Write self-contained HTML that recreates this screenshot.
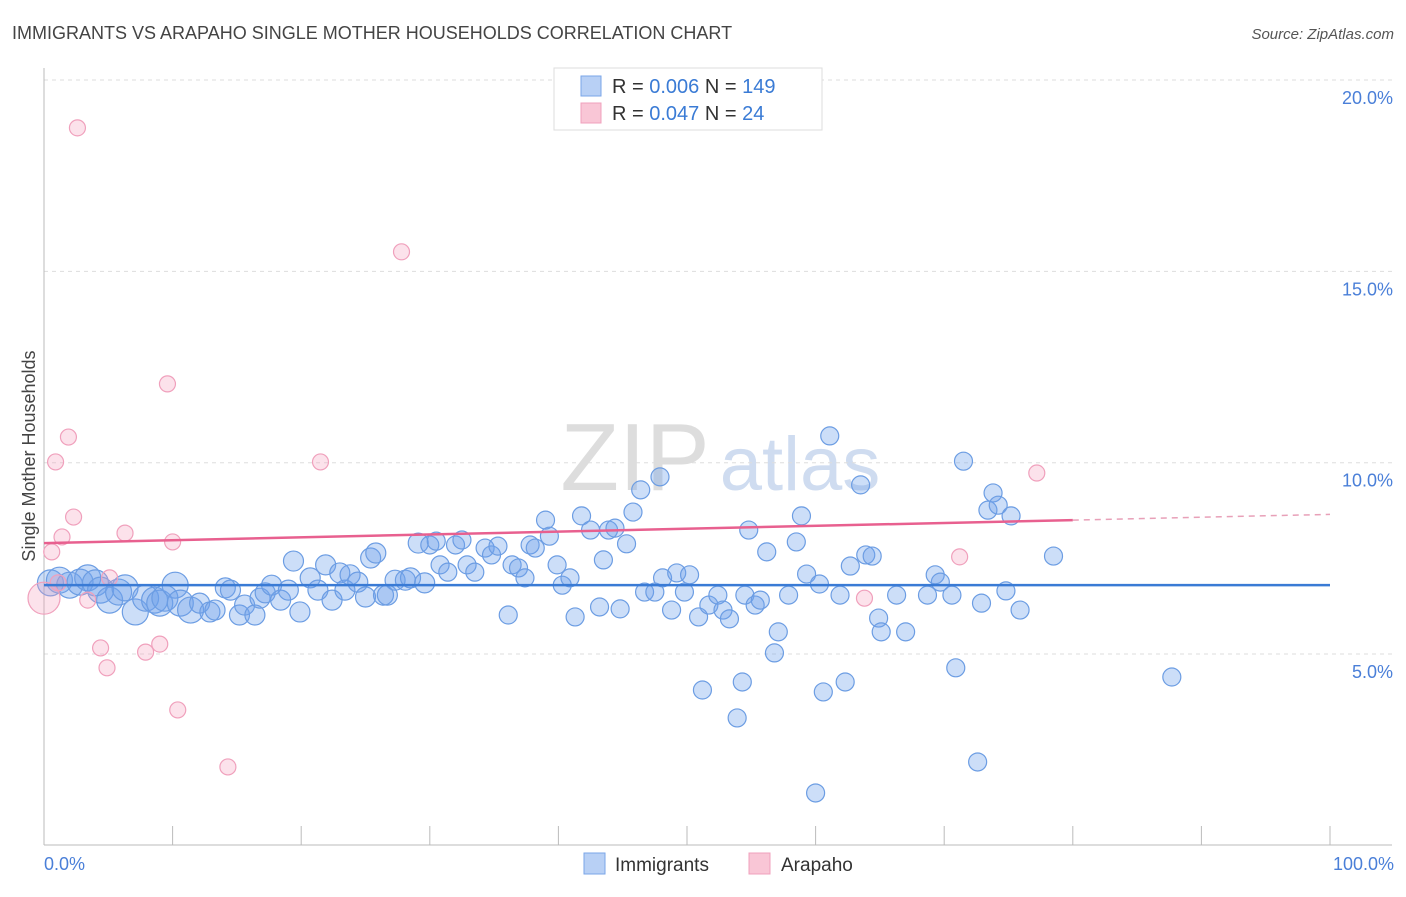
<!DOCTYPE html>
<html><head><meta charset="utf-8"><style>
body{margin:0;background:#fff;font-family:"Liberation Sans",sans-serif;}
svg text{font-family:"Liberation Sans",sans-serif;}
</style></head><body>
<svg id="chart" width="1406" height="892" viewBox="0 0 1406 892">
<text x="12" y="39" font-size="18" fill="#444">IMMIGRANTS VS ARAPAHO SINGLE MOTHER HOUSEHOLDS CORRELATION CHART</text>
<text x="1394" y="39" font-size="15" fill="#555" text-anchor="end" font-style="italic">Source: ZipAtlas.com</text>
<g><text x="635" y="490" font-size="96" fill="#ddd" text-anchor="middle" font-family="Liberation Serif,serif">ZIP</text><text x="800" y="490" font-size="76" fill="#cfdcf0" text-anchor="middle">atlas</text></g>
<g id="grid"></g>
<g id="axes"></g>
<g id="pts"></g>
<g id="lines"></g>
<text x="35" y="456" font-size="18" fill="#444" text-anchor="middle" transform="rotate(-90 35 456)">Single Mother Households</text>
<text x="44" y="870" font-size="18" fill="#4a7fd8">0.0%</text>
<text x="1394" y="870" font-size="18" fill="#4a7fd8" text-anchor="end">100.0%</text>
<g>
<rect x="554" y="68" width="268" height="62" fill="#fff" stroke="#ddd"/>
<rect x="581" y="76" width="20" height="20" fill="#b8d0f5" stroke="#7aa6e8"/>
<rect x="581" y="103" width="20" height="20" fill="#f9c6d6" stroke="#f0a0bc"/>
<text x="612" y="93" font-size="20" fill="#333">R = <tspan fill="#3a7bd5">0.006</tspan>   N = <tspan fill="#3a7bd5">149</tspan></text>
<text x="612" y="120" font-size="20" fill="#333">R = <tspan fill="#3a7bd5">0.047</tspan>   N = <tspan fill="#3a7bd5">  24</tspan></text>
</g>
<g>
<rect x="584" y="853" width="21" height="21" fill="#b8d0f5" stroke="#7aa6e8"/>
<text x="615" y="871" font-size="19" fill="#333">Immigrants</text>
<rect x="749" y="853" width="21" height="21" fill="#f9c6d6" stroke="#f0a0bc"/>
<text x="781" y="871" font-size="19" fill="#333">Arapaho</text>
</g>
</svg>
<script>
const blueX=[0.5,1.2,2.0,2.8,3.4,4.0,4.4,5.1,5.8,6.3,7.1,7.9,8.6,9.0,9.4,10.2,10.6,11.4,12.1,12.9,13.3,14.1,14.5,15.2,15.6,16.4,16.8,17.2,17.7,18.4,19.0,19.4,19.9,20.7,21.3,21.9,22.4,23.0,23.4,23.8,24.4,25.0,25.4,25.8,26.4,26.7,27.3,28.1,28.5,29.1,29.6,30.0,30.5,30.8,31.4,32.0,32.5,32.9,33.5,34.3,34.8,35.3,36.1,36.4,36.9,37.4,37.8,38.2,39.0,39.3,39.9,40.3,40.9,41.3,41.8,42.5,43.2,43.5,43.9,44.4,44.8,45.3,45.8,46.4,46.7,47.5,47.9,48.1,48.8,49.2,49.8,50.2,50.9,51.2,51.7,52.4,52.8,53.3,53.9,54.3,54.5,54.8,55.3,55.7,56.2,57.1,56.8,57.9,58.5,58.9,59.3,60.0,60.3,60.6,61.1,61.9,62.3,62.7,63.5,63.9,64.4,64.9,65.1,66.3,67.0,68.7,69.3,69.7,70.6,70.9,71.5,72.6,72.9,73.4,73.8,74.2,74.8,75.2,75.9,78.5,87.7];
const blueY=[6.86,6.93,6.8,6.88,6.99,6.86,6.67,6.41,6.62,6.73,6.1,6.46,6.41,6.33,6.46,6.8,6.33,6.15,6.33,6.1,6.15,6.73,6.67,6.02,6.28,6.02,6.46,6.6,6.8,6.41,6.67,7.43,6.1,6.99,6.67,7.33,6.41,7.12,6.67,7.07,6.88,6.49,7.51,7.64,6.54,6.54,6.93,6.93,6.99,7.9,6.86,7.85,7.95,7.33,7.14,7.85,7.98,7.33,7.14,7.77,7.59,7.82,6.02,7.33,7.25,6.99,7.85,7.77,8.5,8.08,7.33,6.8,6.99,5.97,8.61,8.24,6.23,7.46,8.24,8.29,6.18,7.88,8.71,9.29,6.62,6.62,9.63,6.99,6.15,7.12,6.62,7.07,5.97,4.06,6.28,6.54,6.15,5.92,3.33,4.27,6.54,8.24,6.28,6.41,7.67,5.58,5.03,6.54,7.93,8.61,7.09,1.37,6.83,4.01,10.7,6.54,4.27,7.3,9.42,7.59,7.56,5.94,5.58,6.54,5.58,6.54,7.07,6.88,6.54,4.64,10.04,2.18,6.33,8.76,9.21,8.89,6.65,8.61,6.15,7.56,4.4];
const pinkX=[0,0.6,1.1,1.4,0.9,1.9,2.3,2.6,3.4,4.4,4.9,5.1,6.3,7.9,9.0,9.6,10.0,10.4,14.3,21.5,27.8,63.8,71.2,77.2];
const pinkY=[6.46,7.67,6.86,8.06,10.02,10.67,8.58,18.75,6.41,5.16,4.64,6.99,8.16,5.05,5.26,12.06,7.93,3.54,2.05,10.02,15.51,6.46,7.54,9.73];
const yTicks=[5,10,15,20];
const yTickLabels=["5.0%","10.0%","15.0%","20.0%"];
const xTicks=[0,10,20,30,40,50,60,70,80,90,100];
const blueTrend=[6.8,6.8];
const pinkTrend=[7.9,8.65];
const pinkSolidEnd=80;

const NS="http://www.w3.org/2000/svg";
const X=v=>44+v*12.86;
const Y=v=>80+(20-v)*38.27;
function mk(tag,attrs,parent){const e=document.createElementNS(NS,tag);for(const k in attrs)e.setAttribute(k,attrs[k]);parent.appendChild(e);return e;}
const grid=document.getElementById('grid'),axes=document.getElementById('axes'),pts=document.getElementById('pts'),lines=document.getElementById('lines');
mk('line',{x1:44,x2:1392,y1:80,y2:80,stroke:'#ddd','stroke-dasharray':'4,4'},grid);
yTicks.forEach((t,i)=>{
  const l=mk('line',{x1:44,x2:1392,y1:Y(t),y2:Y(t),stroke:'#ddd','stroke-dasharray':'4,4'},grid);
  
  
  const tx=mk('text',{x:1393,y:Y(t)+24,'font-size':18,fill:'#4a7fd8','text-anchor':'end'},grid);
  tx.textContent=yTickLabels[i];
  
  
});
mk('line',{x1:44,x2:44,y1:68,y2:845,stroke:'#bbb'},axes);
mk('line',{x1:44,x2:1392,y1:845,y2:845,stroke:'#bbb'},axes);
xTicks.forEach(t=>{
  const l=mk('line',{x1:X(t),x2:X(t),y1:826,y2:845,stroke:'#bbb'},axes);
  
  
});
blueX.forEach((x,i)=>{
  const r=x<12?13:(x<30?10:9);
  const c=mk('circle',{cx:X(x),cy:Y(blueY[i]),r:r,fill:'rgba(110,160,235,0.35)',stroke:'#6c9de3','stroke-width':1.2},pts);
  
  
});
pinkX.forEach((x,i)=>{
  const r=i===0?16:8;
  const c=mk('circle',{cx:X(x),cy:Y(pinkY[i]),r:r,fill:'rgba(245,160,190,0.3)',stroke:'#f0a0bc','stroke-width':1.2},pts);
  
  
});
const bl=mk('line',{x1:X(0),x2:X(100),y1:Y(blueTrend[0]),y2:Y(blueTrend[1]),stroke:'#3a7bd5','stroke-width':2.5},lines);


const pv=x=>pinkTrend[0]+(pinkTrend[1]-pinkTrend[0])*x/100;
const pl=mk('line',{x1:X(0),x2:X(pinkSolidEnd),y1:Y(pv(0)),y2:Y(pv(pinkSolidEnd)),stroke:'#e8608f','stroke-width':2.5},lines);


const pd=mk('line',{x1:X(pinkSolidEnd),x2:X(100),y1:Y(pv(pinkSolidEnd)),y2:Y(pv(100)),stroke:'#e8a0b8','stroke-width':1.5,'stroke-dasharray':'6,5'},lines);


</script>
</body></html>
